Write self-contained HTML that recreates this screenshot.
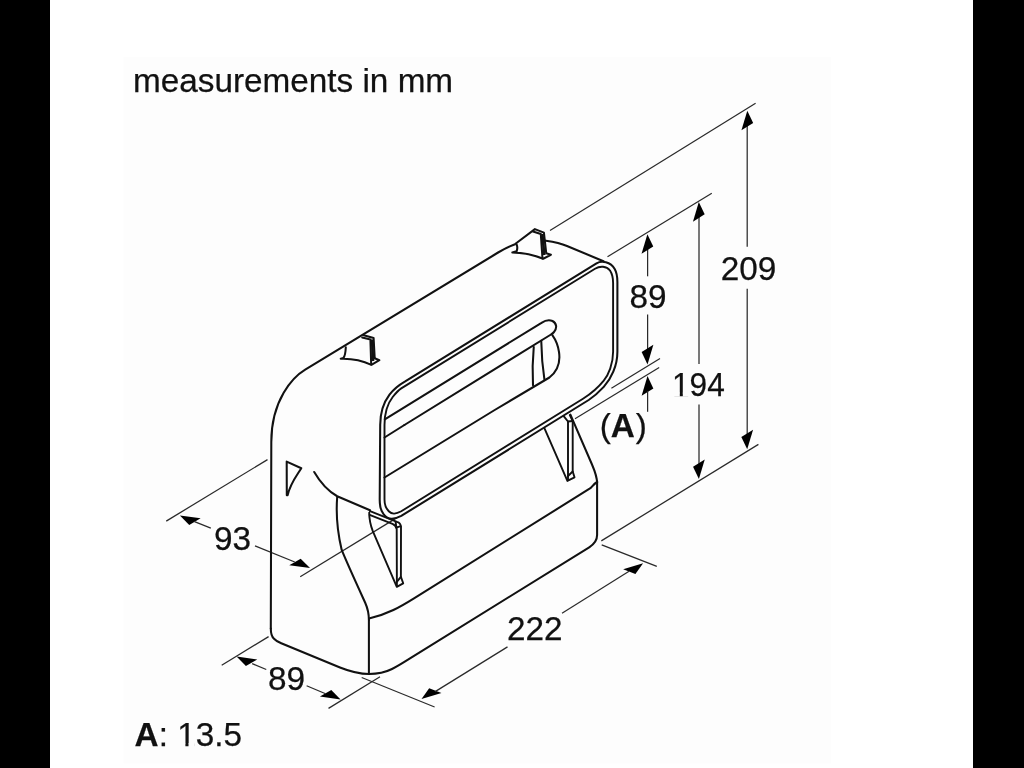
<!DOCTYPE html>
<html><head><meta charset="utf-8"><title>measurements</title>
<style>
html,body{margin:0;padding:0;background:#000;}
body{width:1024px;height:768px;overflow:hidden;position:relative;}
svg{position:absolute;left:0;top:0;display:block;}
#ink{filter:blur(0.6px);}
text{font-family:"Liberation Sans",sans-serif;fill:#111;stroke:#111;stroke-width:0.25;}
.k{fill:none;stroke:#111;stroke-width:2.05;stroke-linecap:round;stroke-linejoin:round;}
.k2{fill:none;stroke:#111;stroke-width:1.9;stroke-linecap:round;stroke-linejoin:round;}
.t{fill:none;stroke:#2a2a2a;stroke-width:1.25;stroke-linecap:butt;}
.a{fill:#000;stroke:none;}
</style></head><body>
<svg width="1024" height="768" viewBox="0 0 1024 768">
<rect x="0" y="0" width="1024" height="768" fill="#000"/>
<rect x="50" y="0" width="923" height="768" fill="#fff"/>
<rect x="123.5" y="57" width="707.5" height="706.5" fill="#fdfdfd"/>
<g id="ink">
<g id="texts">
<text x="133" y="92" font-size="33.3">measurements in mm</text>
<text x="720.8" y="280" font-size="33.3">209</text>
<text x="672" y="395.8" font-size="33.3" textLength="52.8" lengthAdjust="spacingAndGlyphs">194</text>
<text x="629.5" y="307.9" font-size="33.3">89</text>
<text x="214" y="549.5" font-size="33.3">93</text>
<text x="268" y="689.9" font-size="33.3">89</text>
<text x="507" y="639.8" font-size="33.3">222</text>
<text x="599.7" y="437.1" font-size="33.3"><tspan>(</tspan><tspan font-weight="bold">A</tspan><tspan dx="0.8">)</tspan></text>
<text x="134.6" y="746.2" font-size="33.3"><tspan font-weight="bold">A</tspan><tspan>: 13.5</tspan></text>
<rect x="673.6" y="392.6" width="6.2" height="4" fill="#fdfdfd" stroke="none"/>
<rect x="682.8" y="392.6" width="6.8" height="4" fill="#fdfdfd" stroke="none"/>
<rect x="178.9" y="743" width="6.5" height="4" fill="#fdfdfd" stroke="none"/>
<rect x="188.5" y="743" width="6.3" height="4" fill="#fdfdfd" stroke="none"/>
</g>
<g id="dims">
<path class="t" d="M550.00 230.50 L755.60 103.30"/>
<path class="t" d="M601.30 540.90 L758.40 444.40"/>
<path class="t" d="M747.20 125.00 L747.20 246.80"/>
<path class="t" d="M747.20 288.80 L747.20 434.00"/>
<polygon class="a" points="747.30,110.70 753.16,123.05 741.44,130.35"/>
<polygon class="a" points="747.20,449.30 753.06,429.65 741.34,436.95"/>
<path class="t" d="M607.50 256.80 L711.80 193.20"/>
<path class="t" d="M699.00 217.00 L699.00 364.00"/>
<path class="t" d="M699.00 404.50 L699.00 464.50"/>
<polygon class="a" points="698.80,202.00 704.66,214.35 692.94,221.65"/>
<polygon class="a" points="698.90,479.10 704.76,459.45 693.04,466.75"/>
<path class="t" d="M647.60 249.00 L647.60 276.30"/>
<path class="t" d="M647.60 314.50 L647.60 349.00"/>
<polygon class="a" points="647.40,234.20 653.26,246.55 641.54,253.85"/>
<polygon class="a" points="647.50,364.40 653.36,344.75 641.64,352.05"/>
<path class="t" d="M611.40 388.20 L660.00 358.50"/>
<path class="t" d="M575.00 418.75 L659.20 367.50"/>
<polygon class="a" points="647.50,376.10 653.36,388.45 641.64,395.75"/>
<path class="t" d="M647.60 391.00 L647.60 411.80"/>
<path class="t" d="M166.25 521.10 L267.50 459.60"/>
<path class="t" d="M300.20 576.70 L397.00 517.60"/>
<polygon class="a" points="179.90,515.60 200.62,518.33 189.23,524.98"/>
<polygon class="a" points="310.00,568.05 300.67,558.67 289.28,565.32"/>
<path class="t" d="M194.50 521.70 L210.80 528.20"/>
<path class="t" d="M255.00 545.80 L294.75 562.00"/>
<path class="t" d="M221.70 665.20 L268.60 636.60"/>
<path class="t" d="M328.50 708.40 L380.00 676.70"/>
<polygon class="a" points="236.60,656.60 257.27,659.38 245.91,666.11"/>
<polygon class="a" points="340.60,699.40 331.29,689.89 319.93,696.62"/>
<path class="t" d="M252.15 663.60 L266.25 669.50"/>
<path class="t" d="M306.60 685.70 L325.60 693.80"/>
<path class="t" d="M361.70 677.50 L434.60 707.00"/>
<path class="t" d="M601.70 544.80 L656.80 566.30"/>
<polygon class="a" points="421.50,699.10 441.44,693.07 429.18,688.19"/>
<polygon class="a" points="643.10,563.20 635.42,574.11 623.16,569.23"/>
<path class="t" d="M435.15 691.65 L507.50 646.90"/>
<path class="t" d="M562.00 613.20 L629.05 571.20"/>
</g>
<g id="body">
<!-- left face outline + top edge -->
<path class="k" d="M270.8 628.5 L271.3 442 C271.3 400 293 377 305.2 369.7 L498.1 252.5 C505 248.5 511 245.5 517.7 243.2 C527 240 537 239.5 546 240.8 C554 242 561 243.5 567 246 L603.5 261.2"/>
<!-- bottom-left corner + bottom edge -->
<path class="k" d="M270.8 628.5 C270.8 634 272 637 274 638.8 C276 641 278.5 642 281.25 643.2 L340 667.5 C352 672.3 360 674 369 674 C378 674 385 672.5 392 669 C398 666 404 662.2 410 658.4 L589.2 547.3 C594.5 544 597.1 541 597.1 535 L597.1 481"/>
<!-- lower box top edge -->
<path class="k" d="M597.1 482 C593.5 484 592 487 590.4 488.2 L414 598.3 C400 607 388 614 369 618.5"/>
<!-- vertical front-left edge of lower box -->
<path class="k" d="M368.9 674 L368.9 620"/>
<!-- S-curve -->
<path class="k" d="M337.2 497 C336 512 336.5 528 341.7 549.9 C347 563 353.4 576.9 365.2 602.7 C368 609 368.9 614 368.9 620"/>
<!-- arc on left face -->
<path class="k" d="M314.2 472 C320 482 328 491 337.2 496.25 L370 510.3"/>
<!-- triangle -->
<path class="k" d="M286.7 461.6 L301.3 468.2 C296.5 476 290.5 483 287.6 495.3 L286.8 495.3 Z"/>
<!-- right diagonal edge -->
<path class="k" d="M570.4 414.6 L592 464.5 C595.2 472 597.1 477 597.1 483"/>
<!-- frame outer -->
<path class="k" d="M380.2 425 C380.2 412 384 402 389.5 394.7 C393 390 399 385 405.2 381.4 L596.5 263.3 C601.6 260.1 610.5 261.6 614.7 268.9 C616.6 272.2 617.4 276 617.4 282 L617.4 351.7 C617.4 366 611 379 603.75 386.9 C599 392 594 396.5 588.7 400 L401.25 515.9 C398 517.6 395 518.6 391.9 518.7 C389 518.8 386 517.3 383.7 514.4 C380.8 511 379.7 505 379.7 499.5 Z"/>
<!-- frame inner -->
<path class="k2" d="M384.5 425 C384.5 414 388 403 392.7 397 C395.5 393.5 398 390.5 401.25 388.4 L595 268.8 C600 265.7 606.5 266 610 270.5 C612 273.5 613.1 277.5 613.1 283 L613.1 351.7 C613.1 364 608.5 375 603.75 380.6 C599 386.5 592 393 583 398.8 L401.25 511.25 C399 512.5 396.5 513.5 394.2 513.6 C392.3 513.7 390.5 513 388.75 511.25 C385.5 508 384.5 503 384.5 499.5 Z"/>
<!-- slats -->
<path class="k" d="M384.8 419.3 L541.5 322.8 C545 320.5 549.4 319.7 552.5 321 C556.5 323 557.5 328 554 332 C553 333.2 552 334 551 334.5 L404.4 425"/>
<path class="k" d="M404.4 425 L384.5 437.5"/>
<path class="k" d="M384.5 477.5 L494.7 410 L549.4 377.5 C557 371.5 560.5 362 559 352 C558 345 555.5 339.5 552.5 335.3"/>
<path class="k" d="M533.75 347 C532.5 360 532.3 372 533 385.3"/>
<path class="k" d="M541.25 340.8 C541.5 355 542.5 367 544.4 379.4"/>
<!-- left bracket -->
<path class="k2" d="M370 511.1 L397 521.8 Q400.6 522.9 401 526.6 L400.9 576.9 L403.2 583.3 L396.8 586.8 L372.8 531.2 C370.5 525 369.2 519 369.2 512.7"/>
<path class="k2" d="M369.6 514.9 L392.5 523.8 Q395.8 525 396.7 529 L396.9 586"/>
<path class="k2" d="M395.6 522 L396.4 527.6 L400.6 526.2"/>
<path class="k2" d="M397 581.6 L400.9 576.9"/>
<!-- right bracket -->
<path class="k2" d="M544.6 428.7 L567.4 480.9 L574.5 477.3 L572.7 471.5 L572.7 421 L569.8 415.2"/>
<path class="k2" d="M563.9 416.4 L568 421.5 L568 480"/>
<path class="k2" d="M568 421.5 L572.7 421"/>
<path class="k2" d="M568 476 L572.7 471.5"/>
<!-- tab 1 -->
<g id="tab1">
<path class="k" d="M345.8 347.3 C345.6 352 345 356 343.4 358 L340.7 358.7 C352 358.3 362 360.3 371.4 364.8 L379.4 360.2 L374.7 358.3"/>
<path class="k" d="M363.75 335.2 L373.6 338 L374.7 358.3"/>
<path class="k" d="M362.2 337.6 L370.4 339.5 L371.2 364.5"/>
<path d="M372.1 339.5 L373 361" fill="none" stroke="#111" stroke-width="2.6"/>
</g>
<!-- tab 2 -->
<g id="tab2">
<path d="M515.8 243.5 L534.9 229.1 L543.9 232.6 L546.25 253.3 L550.9 254.8 L543.1 258.75 C533 254.5 523 252.8 512.3 252.5 L516.6 251.3 Z" fill="#fdfdfd" stroke="none"/>
<path class="k" d="M515.8 243.5 L534.9 229.1 L543.9 232.6 L546.25 253.3 L550.9 254.8 L543.1 258.75 C533 254.5 523 252.8 512.3 252.5 L516.6 251.3 C517.5 249 517.5 246.5 516.6 244.3"/>
<path class="k" d="M533 231.5 L540.8 234 L542.5 258.5"/>
<path d="M542.4 234 L544.3 255" fill="none" stroke="#111" stroke-width="2.6"/>
</g>
</g>
</g>
</svg>
</body></html>
